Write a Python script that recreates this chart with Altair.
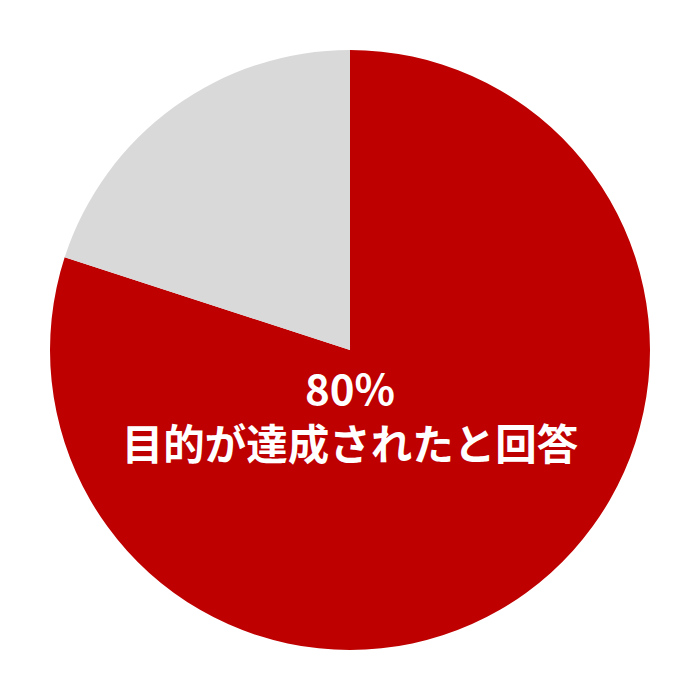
import altair as alt
import pandas as pd

categories = ["目的が達成された", "その他"]
values = [80, 20]
colors = ["#BE0000", "#D9D9D9"]
label_lines = ["80%", "目的が達成されたと回答"]

df = pd.DataFrame({"category": categories, "value": values, "order": [0, 1]})

pie = alt.Chart(df).mark_arc(outerRadius=300).encode(
    theta=alt.Theta("value:Q", stack=True),
    order=alt.Order("order:Q"),
    color=alt.Color("category:N", scale=alt.Scale(domain=categories, range=colors), legend=None),
)

t1 = alt.Chart(pd.DataFrame({"t": [label_lines[0]]})).mark_text(
    font="Noto Sans CJK JP", fontWeight="bold", fontSize=42, color="white", baseline="middle"
).encode(text="t:N", x=alt.value(342), y=alt.value(384))

t2 = alt.Chart(pd.DataFrame({"t": [label_lines[1]]})).mark_text(
    font="Noto Sans CJK JP", fontWeight="bold", fontSize=41.5, color="white", baseline="middle"
).encode(text="t:N", x=alt.value(342), y=alt.value(440))

chart = alt.layer(pie, t1, t2).properties(
    width=684, height=684, autosize=alt.AutoSizeParams(type="none"), padding=0
).configure_view(stroke=None)

chart.save("out.html", embed_options={"renderer": "svg", "actions": False})
